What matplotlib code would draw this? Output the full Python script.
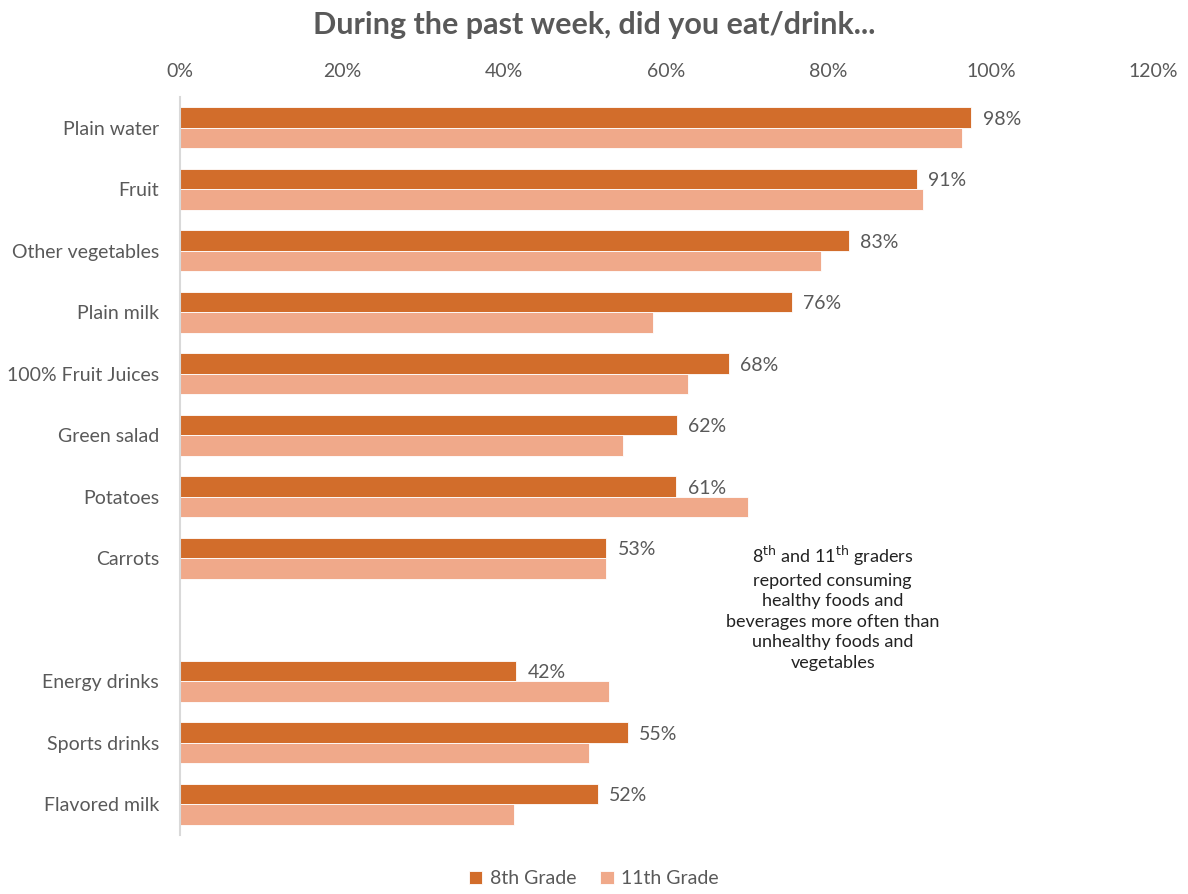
import matplotlib.pyplot as plt
import numpy as np

categories = ['Plain water', 'Fruit', 'Other vegetables', 'Plain milk', '100% Fruit Juices',
              'Green salad', 'Potatoes', 'Carrots', '', 'Energy drinks', 'Sports drinks', 'Flavored milk']
grade8 = [97.6, 90.9, 82.5, 75.5, 67.7, 61.3, 61.2, 52.6, np.nan, 41.5, 55.2, 51.5]
grade11 = [96.5, 91.6, 79.1, 58.4, 62.6, 54.7, 70.0, 52.5, np.nan, 52.9, 50.4, 41.2]
labels8 = ['98%', '91%', '83%', '76%', '68%', '62%', '61%', '53%', '', '42%', '55%', '52%']

plt.rcParams['font.family'] = ['Lato', 'DejaVu Sans']
grey = '#595959'
c8 = '#D26D2B'
c11 = '#F0A98A'

fig = plt.figure(figsize=(11.88, 8.94), dpi=100)
ax = fig.add_axes([0.1515, 0.066, 0.819, 0.8255])

y = np.arange(len(categories))
h = 0.33
ax.barh(y - h/2, grade8, height=h, color=c8, edgecolor='white', linewidth=0.6, label='8th Grade')
ax.barh(y + h/2, grade11, height=h, color=c11, edgecolor='white', linewidth=0.6, label='11th Grade')

for yi, v, lab in zip(y, grade8, labels8):
    if lab:
        ax.text(v + 1.4, yi - h/2 + 0.03, lab, va='center', ha='left', fontsize=14, color=grey)

ax.set_xlim(0, 120)
ax.set_ylim(11.5, -0.5)
ax.set_xticks(np.arange(0, 121, 20))
ax.set_xticklabels([f'{t}%' for t in range(0, 121, 20)])
ax.xaxis.tick_top()
ax.tick_params(axis='x', length=0, labelsize=14, labelcolor=grey, pad=12)
ax.set_yticks(y)
ax.set_yticklabels(categories)
ax.tick_params(axis='y', length=0, labelsize=14, labelcolor=grey, pad=15)
for s in ['top', 'right', 'bottom']:
    ax.spines[s].set_visible(False)
ax.spines['left'].set_color('#D9D9D9')
ax.spines['left'].set_linewidth(1.5)

ax.text(80.5, 7.8, '8$^{\\mathrm{th}}$ and 11$^{\\mathrm{th}}$ graders\nreported consuming\nhealthy foods and\nbeverages more often than\nunhealthy foods and\nvegetables',
        ha='center', va='center', fontsize=13, color='#222222', linespacing=1.35)

fig.suptitle('During the past week, did you eat/drink...', x=0.5, y=0.988, fontsize=22,
             fontweight='bold', color=grey)

fig.legend(loc='lower center', bbox_to_anchor=(0.5, -0.012), ncol=2, frameon=False,
           fontsize=14, labelcolor=grey, handlelength=0.7, handleheight=0.7, columnspacing=1.2,
           handletextpad=0.4)

fig.savefig('out.png', dpi=100)
